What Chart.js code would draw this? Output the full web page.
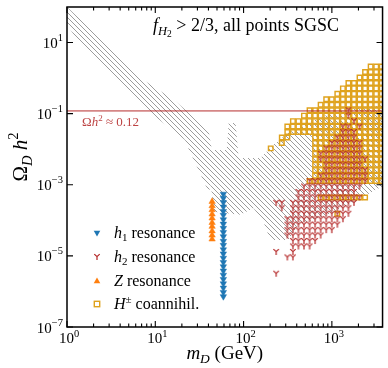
<!DOCTYPE html>
<html>
<head>
<meta charset="utf-8">
<script src="https://cdn.jsdelivr.net/npm/chart.js"></script>
<style>html,body{margin:0;padding:0;background:#fff}canvas{display:block}</style>
</head>
<body>
<canvas id="c" width="388" height="368" style="width:388px;height:368px"></canvas>
<script>
// axes
const xRange = [1, 3750];
const yRange = [1e-7, 100];
const xTicks = [1, 10, 100, 1000];
const xTickExp = ['0', '1', '2', '3'];
const yTicks = [10, 0.1, 1e-3, 1e-5, 1e-7];
const yTickExp = ['1', '\u22121', '\u22123', '\u22125', '\u22127'];
const omegaObs = 0.12;

// all points SGSC: outline of the hatched region
const grayM = [1, 3.94, 6.78, 16.3, 24.1, 40.4, 43.7, 64.4, 67.8, 81.3, 87.9, 155, 217, 320, 697, 1330, 4000,
  4000, 1514, 902, 415, 320, 201, 168, 129, 92.5, 46, 42.6, 40.4, 24.1, 21.7, 8.57, 1.33, 1];
const grayO = [100, 4.2, 1.0, 0.244, 0.105, 0.0308, 0.0095, 0.0095, 0.055, 0.055, 0.0057, 0.0057, 0.0133, 0.0288, 0.076, 0.128, 0.177,
  0.001, 2.7e-4, 1.43e-4, 7.5e-5, 2.8e-5, 2.8e-5, 9.1e-5, 2.24e-4, 1.43e-4, 1.74e-4, 1e-3, 6.2e-4, 9.6e-3, 0.0183, 0.112, 11.2, 31.5];

// Z resonance
const zM = 44;
const zOmega = [3.37e-4, 2.55e-4, 1.97e-4, 1.49e-4, 1.15e-4, 8.6e-5, 6.7e-5, 5.0e-5, 3.8e-5, 2.95e-5];

// h1 resonance
const h1M = 59;
const h1Omega = [5.5e-4, 4.2e-4, 3.2e-4, 2.4e-4, 1.8e-4, 1.4e-4, 1.05e-4, 7.9e-5, 6.0e-5, 4.6e-5, 3.5e-5, 2.6e-5,
  2.0e-5, 1.5e-5, 1.15e-5, 8.7e-6, 6.6e-6, 5.0e-6, 3.8e-6, 2.9e-6, 2.2e-6, 1.66e-6, 1.26e-6, 9.5e-7, 7.2e-7];

// scan cells (columns in m_D, rows in Omega)
const gridM = [203, 234, 271, 313, 362, 418, 483, 559, 646, 746, 863, 997, 1153, 1333, 1540, 1780, 2058, 2378, 2750, 3179, 3674];
const gridO = [2.106, 1.48, 1.04, 0.7305, 0.5133, 0.3606, 0.2533, 0.178, 0.1251, 0.0879, 0.0617, 0.0434, 0.0305,
  0.0214, 0.01504, 0.01057, 0.00743, 0.00522, 0.00367, 0.00258, 0.00181, 0.00127, 8.93e-4, 6.27e-4, 4.41e-4,
  3.10e-4, 2.18e-4, 1.53e-4, 1.074e-4, 7.55e-5, 5.30e-5, 3.73e-5, 2.62e-5, 1.84e-5, 1.29e-5, 9.08e-6, 6.38e-6, 4.48e-6, 3.15e-6];
// run-length rows: o = H± coannihil., r = h2 resonance, b = both, . = none
const gridRows = [
  '18. 3o', '17. 4o', '16. 5o', '14. 7o', '13. 8o', '12. 9o', '10. 11o', '9. 12o',
  '7. 7o 1b 6o', '6. 8o 1b 6o', '4. 11o 1b 5o', '3. 10o 2b 1o 1b 4o', '3. 10o 3b 5o',
  '2. 2o 4. 4o 4b 5o', '2. 1o 5. 3o 6b 4o', '1o 7. 2o 7b 4o', '8. 1o 8b 4o', '8. 1o 9b 3o',
  '8. 2o 7b 4o', '8. 2o 8b 3o', '8. 1o 9b 3o', '7. 11b 3o', '6. 11r', '5. 11r', '5. 4r 8b 1o',
  '1. 2r 1. 12r', '2. 1r 1. 11r', '4. 8r 1b 2r', '3. 11r', '3. 10r', '3. 9r', '3. 7r', '4. 5r', '4. 4r',
  '1. 1r 2. 1r', '3. 2r', '', '', '1. 1r'
];

const orangeCells = [], redCells = [];
gridRows.forEach((row, j) => {
  let k = 0;
  row.split(' ').filter(Boolean).forEach(tok => {
    const n = parseInt(tok), ch = tok.slice(-1);
    for (let i = 0; i < n; i++, k++) {
      if (ch === 'o' || ch === 'b') orangeCells.push({x: gridM[k], y: gridO[j]});
      if (ch === 'r' || ch === 'b') redCells.push({x: gridM[k], y: gridO[j]});
    }
  });
});

const canvas = document.getElementById('c');
const ctx = canvas.getContext('2d');
const SERIF = '"Liberation Serif", "DejaVu Serif", serif';
const RED = '#b22222', BLUE = '#1f77b4', ORANGE = '#ff7f0e', GOLD = '#dfa21d';

function hatchPattern() {
  const p = document.createElement('canvas');
  p.width = 5; p.height = 5;
  const g = p.getContext('2d');
  g.strokeStyle = '#9c9c9c';
  g.lineWidth = 1;
  g.beginPath();
  g.moveTo(-1, -1); g.lineTo(6, 6);
  g.moveTo(4, -1); g.lineTo(6, 1);
  g.moveTo(-1, 4); g.lineTo(1, 6);
  g.stroke();
  return ctx.createPattern(p, 'repeat');
}

// tri_down marker
function triDown(color) {
  const c = document.createElement('canvas');
  c.width = 10; c.height = 10;
  const g = c.getContext('2d');
  g.strokeStyle = color;
  g.lineWidth = 1.2;
  g.beginPath();
  g.moveTo(5, 4.6); g.lineTo(5, 7.9);
  g.moveTo(5, 4.6); g.lineTo(2.3, 2.1);
  g.moveTo(5, 4.6); g.lineTo(7.7, 2.1);
  g.stroke();
  return c;
}
const yMark = triDown(RED);

function font(p) { return (p.it ? 'italic ' : '') + p.size + 'px ' + SERIF; }
function drawRich(c, parts, x, y, align) {
  let w = 0;
  parts.forEach(p => { c.font = font(p); w += c.measureText(p.t).width; });
  let cx = align === 'right' ? x - w : align === 'center' ? x - w / 2 : x;
  parts.forEach(p => {
    c.font = font(p);
    c.fillText(p.t, cx, y + (p.dy || 0));
    cx += c.measureText(p.t).width;
  });
}

const decor = {
  id: 'decor',
  afterDraw(chart) {
    const {ctx: c, chartArea: a, scales: {x, y}} = chart;
    c.save();
    c.textBaseline = 'alphabetic';
    c.fillStyle = '#000';

    // ticks, inward on all four sides
    c.strokeStyle = '#000';
    c.lineWidth = 1.1;
    c.beginPath();
    for (let d = 0; d < 4; d++) {
      for (let k = 1; k < 10; k++) {
        const v = k * Math.pow(10, d);
        if (v > xRange[1]) continue;
        const px = x.getPixelForValue(v);
        const len = k === 1 ? 6 : 3.5;
        c.moveTo(px, a.bottom); c.lineTo(px, a.bottom - len);
        c.moveTo(px, a.top); c.lineTo(px, a.top + len);
      }
    }
    yTicks.forEach(v => {
      const py = y.getPixelForValue(v);
      c.moveTo(a.left, py); c.lineTo(a.left + 6, py);
      c.moveTo(a.right, py); c.lineTo(a.right - 6, py);
    });
    c.stroke();

    // frame
    c.lineWidth = 1.5;
    c.strokeRect(a.left, a.top, a.right - a.left, a.bottom - a.top);

    // tick labels
    xTicks.forEach((v, i) => {
      drawRich(c, [{t: '10', size: 15}, {t: xTickExp[i], size: 10.5, dy: -6}], x.getPixelForValue(v) + 2, a.bottom + 16, 'center');
    });
    yTicks.forEach((v, i) => {
      drawRich(c, [{t: '10', size: 15}, {t: yTickExp[i], size: 10.5, dy: -7}], a.left - 4, y.getPixelForValue(v) + 5.5, 'right');
    });

    // axis titles
    drawRich(c, [{t: 'm', it: true, size: 19}, {t: 'D', it: true, size: 13.5, dy: 4}, {t: ' (GeV)', size: 19}], (a.left + a.right) / 2, 359, 'center');
    c.save();
    c.translate(27, 157);
    c.rotate(-Math.PI / 2);
    drawRich(c, [{t: '\u03A9', size: 21}, {t: 'D', it: true, size: 14.5, dy: 4.5}, {t: ' h', it: true, size: 21}, {t: '2', size: 14.5, dy: -9}], 0, 0, 'center');
    c.restore();

    // annotation
    drawRich(c, [{t: 'f', it: true, size: 18}, {t: 'H', it: true, size: 12.5, dy: 4}, {t: '2', size: 9.5, dy: 6}, {t: ' > 2/3, all points SGSC', size: 18}], 153, 31, 'left');
    c.fillStyle = 'rgba(178,34,34,0.85)';
    drawRich(c, [{t: '\u03A9', size: 13}, {t: 'h', it: true, size: 13}, {t: '2', size: 9, dy: -5}, {t: ' \u2248 0.12', size: 13}], 82, 126, 'left');

    // legend
    const lx = 97, rows = [233, 257, 281, 304];
    c.fillStyle = BLUE;
    c.beginPath(); c.moveTo(lx - 3.3, rows[0] - 2.2); c.lineTo(lx + 3.3, rows[0] - 2.2); c.lineTo(lx, rows[0] + 3.5); c.closePath(); c.fill();
    c.drawImage(yMark, lx - 5, rows[1] - 5);
    c.fillStyle = ORANGE;
    c.beginPath(); c.moveTo(lx - 3.3, rows[2] + 2.2); c.lineTo(lx + 3.3, rows[2] + 2.2); c.lineTo(lx, rows[2] - 3.5); c.closePath(); c.fill();
    c.strokeStyle = GOLD; c.lineWidth = 1.4;
    c.strokeRect(lx - 2.7, rows[3] - 2.7, 5.4, 5.4);
    c.fillStyle = '#000';
    const tx = 114;
    drawRich(c, [{t: 'h', it: true, size: 16}, {t: '1', size: 11, dy: 3}, {t: ' resonance', size: 16}], tx, rows[0] + 4.5, 'left');
    drawRich(c, [{t: 'h', it: true, size: 16}, {t: '2', size: 11, dy: 3}, {t: ' resonance', size: 16}], tx, rows[1] + 4.5, 'left');
    drawRich(c, [{t: 'Z', it: true, size: 16}, {t: ' resonance', size: 16}], tx, rows[2] + 4.5, 'left');
    drawRich(c, [{t: 'H', it: true, size: 16}, {t: '\u00B1', size: 11, dy: -6}, {t: ' coannihil.', size: 16}], tx, rows[3] + 4.5, 'left');
    c.restore();
  }
};

new Chart(ctx, {
  type: 'scatter',
  data: {
    datasets: [
      {
        type: 'line', label: 'all points',
        data: grayM.map((m, i) => ({x: m, y: grayO[i]})),
        fill: 'shape', backgroundColor: hatchPattern(),
        borderColor: 'rgba(0,0,0,0)', borderWidth: 0, pointRadius: 0, tension: 0, order: 6
      },
      {
        label: 'H\u00B1 coannihil.', data: orangeCells,
        pointStyle: 'rect', pointRadius: 3.2, borderColor: GOLD, borderWidth: 1.45,
        backgroundColor: 'rgba(0,0,0,0)', order: 5
      },
      {
        type: 'line', label: 'relic',
        data: [{x: xRange[0], y: omegaObs}, {x: xRange[1], y: omegaObs}],
        borderColor: 'rgba(178,34,34,0.55)', borderWidth: 1.7, pointRadius: 0, fill: false, order: 4
      },
      {
        label: 'h2 resonance', data: redCells,
        pointStyle: yMark, pointRadius: 4, order: 3
      },
      {
        label: 'h1 resonance', data: h1Omega.map(v => ({x: h1M, y: v})),
        pointStyle: 'triangle', rotation: 180, pointRadius: 3.7,
        backgroundColor: BLUE, borderColor: BLUE, borderWidth: 0.5, order: 2
      },
      {
        label: 'Z resonance', data: zOmega.map(v => ({x: zM, y: v})),
        pointStyle: 'triangle', pointRadius: 3.7,
        backgroundColor: ORANGE, borderColor: ORANGE, borderWidth: 0.5, order: 1
      }
    ]
  },
  options: {
    responsive: false,
    animation: false,
    events: [],
    layout: {padding: {top: 7, right: 3, left: 0, bottom: 0}},
    plugins: {legend: {display: false}, tooltip: {enabled: false}},
    scales: {
      x: {
        type: 'logarithmic', min: xRange[0], max: xRange[1],
        grid: {display: false}, border: {display: false}, ticks: {display: false},
        afterFit: s => { s.height = 41; }
      },
      y: {
        type: 'logarithmic', min: yRange[0], max: yRange[1],
        grid: {display: false}, border: {display: false}, ticks: {display: false},
        afterFit: s => { s.width = 67; }
      }
    }
  },
  plugins: [decor]
});
</script>
</body>
</html>
